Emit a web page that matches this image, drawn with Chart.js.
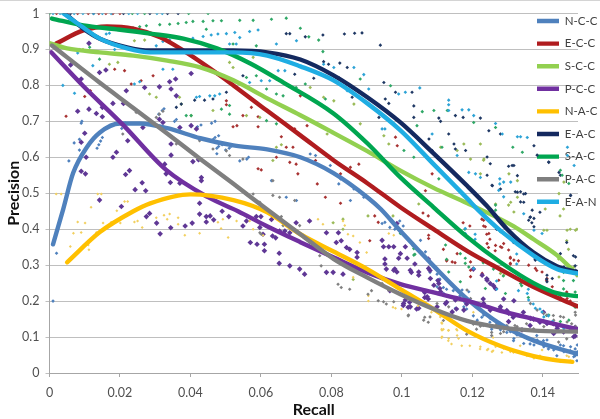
<!DOCTYPE html>
<html>
<head>
<meta charset="utf-8">
<title>Precision / Recall</title>
<script src="https://cdn.jsdelivr.net/npm/chart.js@4"></script>
<style>
  html, body { margin: 0; padding: 0; background: #fff; }
  canvas { display: block; }
  body::before { content: ""; position: absolute; left: 0; top: 0; width: 600px; height: 1px; background: #d4d4d4; }
</style>
</head>
<body>
<canvas id="chart-pr" width="600" height="419"></canvas>
<script>
var seriesNames = ["N-C-C", "E-C-C", "S-C-C", "P-C-C", "N-A-C", "E-A-C", "S-A-C", "P-A-C", "E-A-N"];
var lineColors = ["#4f81bd", "#b01c1f", "#92d050", "#7030a0", "#ffc000", "#14295f", "#00a650", "#7f7f7f", "#1fade3"];
var dotColors = ["#4f81bd", "#a83232", "#9bbb59", "#5f3795", "#f2d060", "#1f3864", "#2fa866", "#808080", "#2da3d6"];
var dotSizes = [1.8, 1.8, 1.8, 2.8, 1.5, 1.8, 1.8, 1.8, 1.8];

// fitted curves [recall, precision]
var nccCurve = [[.001,.358],[.0039,.456],[.0067,.556],[.0106,.628],[.0143,.669],[.02,.694],[.0257,.694],[.0334,.681],[.0428,.653],[.0522,.633],[.0618,.622],[.0712,.6],[.0806,.556],[.0902,.489],[.094,.456],[.0996,.395],[.109,.298],[.1185,.206],[.128,.136],[.1375,.09],[.1498,.053]];
var eccCurve = [[.002,.917],[.0096,.953],[.0163,.964],[.0238,.958],[.0314,.934],[.038,.897],[.0456,.847],[.0522,.8],[.0617,.73],[.0712,.661],[.0806,.592],[.0902,.528],[.0996,.461],[.109,.4],[.1186,.339],[.128,.288],[.1374,.239],[.1497,.186]];
var sccCurve = [[.0002,.917],[.005,.903],[.0143,.892],[.0238,.883],[.0334,.869],[.0428,.85],[.0522,.814],[.0618,.764],[.0712,.717],[.0806,.668],[.0902,.617],[.0996,.563],[.109,.515],[.1186,.472],[.1318,.408],[.1374,.372],[.144,.328],[.1497,.275]];
var pccCurve = [[.0005,.892],[.0095,.799],[.0208,.691],[.0331,.565],[.045,.489],[.0535,.45],[.0616,.409],[.0712,.364],[.0807,.321],[.0901,.28],[.0996,.247],[.109,.224],[.1185,.201],[.128,.173],[.1375,.15],[.1498,.122]];
var nacCurve = [[.005,.308],[.0143,.392],[.0238,.45],[.0286,.472],[.04,.497],[.0522,.481],[.0618,.447],[.0712,.386],[.0806,.338],[.0902,.289],[.0996,.233],[.109,.178],[.1186,.117],[.128,.075],[.1374,.047],[.144,.035],[.1484,.031]];
var eacCurve = [[.0044,1],[.0096,.958],[.0143,.93],[.022,.906],[.0286,.897],[.0428,.897],[.0522,.897],[.0618,.892],[.0712,.872],[.0806,.828],[.0902,.767],[.0996,.697],[.109,.611],[.1186,.52],[.1241,.465],[.1299,.4],[.1374,.335],[.144,.297],[.1497,.281]];
var sacCurve = [[.0007,.986],[.0096,.967],[.0191,.956],[.0286,.944],[.038,.93],[.0475,.903],[.057,.861],[.0664,.808],[.0806,.722],[.0902,.639],[.0996,.544],[.109,.461],[.1186,.378],[.128,.308],[.1374,.25],[.144,.222],[.1497,.214]];
var pacCurve = [[.0007,.911],[.0142,.808],[.0237,.738],[.0331,.668],[.0426,.597],[.0521,.527],[.0616,.456],[.0712,.386],[.0807,.317],[.0901,.266],[.0996,.219],[.109,.178],[.1185,.145],[.128,.127],[.1375,.118],[.1498,.115]];
var eanCurve = [[.004,1],[.0096,.961],[.0143,.93],[.022,.903],[.0286,.892],[.0428,.892],[.0522,.892],[.0618,.883],[.0712,.853],[.0806,.814],[.0902,.75],[.0996,.675],[.109,.581],[.1186,.485],[.1214,.456],[.128,.396],[.1375,.326],[.1441,.289],[.1498,.277]];

// raw points [recall, precision]
var nccDots = [[.001,.2],[.002,.333],[.0055,.59],[.007,.64],[.0085,.62],[.0085,.65],[.009,.695],[.0092,.7],[.0135,.625],[.014,.635],[.0145,.645],[.015,.655],[.0205,.68],[.021,.69],[.0215,.695],[.031,.72],[.032,.73],[.0325,.735],[.0355,.7],[.036,.705],[.042,.685],[.043,.69],[.046,.695],[.047,.7],[.0465,.65],[.047,.655],[.048,.66],[.0475,.625],[.048,.63],[.049,.635],[.0475,.61],[.05,.62],[.051,.625],[.0515,.63],[.054,.59],[.056,.595],[.0565,.6],[.0672,.489],[.0701,.48],[.063,.535],[.074,.609],[.0755,.605],[.0797,.577],[.0821,.526],[.0864,.512],[.0854,.48],[.0892,.489],[.0911,.484],[.0826,.54],[.0952,.419],[.0966,.405],[.098,.4],[.0994,.423],[.1004,.409],[.1032,.354],[.1056,.335],[.107,.317],[.108,.28],[.11,.275],[.1108,.261],[.1127,.233],[.1118,.238],[.1146,.229],[.1165,.215],[.1179,.196],[.1184,.178],[.1203,.159],[.1222,.178],[.1227,.155],[.125,.141],[.1255,.122],[.1269,.132],[.1298,.113],[.1326,.108],[.1317,.09],[.1355,.099],[.1364,.081],[.1383,.104],[.1402,.09],[.1416,.067],[.1435,.071],[.1459,.076],[.144,.048],[.1478,.062],[.1492,.048],[.1497,.034],[.1492,.067],
  [.1232,.161],[.1251,.152],[.128,.138],[.1308,.115],[.1327,.106],[.1356,.096],[.1384,.092],[.1403,.073],[.1431,.064],[.146,.059],[.1488,.045],[.1498,.059],[.1346,.082],[.1375,.078],[.1318,.096],[.128,.12],[.1251,.129],[.1412,.092],[.145,.078],[.1479,.073],[.1498,.078],[.11,.258],[.11,.24],[.1119,.221],[.1171,.231],[.119,.226],[.1209,.189],[.1214,.147],[.1176,.184],[.1152,.18],[.0944,.416],[.0986,.406],[.1053,.369],[.1067,.337],[.1081,.305]];
var eccDots = [[.002,1],[.005,1],[.008,1],[.011,1],[.014,1],[.016,1],[.018,1],[.02,1],[.0047,.714],[.01,.769],[.0116,.785],[.0213,.841],[.0294,.827],[.026,.813],[.0185,.845],[.0232,.804],[.0521,.685],[.0532,.688],[.0592,.685],[.0592,.713],[.0502,.757],[.0502,.746],[.0549,.716],[.0573,.739],[.0658,.657],[.0696,.679],[.0691,.628],[.0672,.628],[.0644,.6],[.0592,.568],[.0601,.565],[.0682,.586],[.07,.581],[.0705,.554],[.0712,.771],[.0731,.688],[.0755,.591],[.076,.526],[.0783,.489],[.0826,.554],[.0854,.572],[.0878,.581],[.0982,.656],[.0987,.632],[.1067,.507],[.1086,.554],[.1185,.484],[.0826,.472],[.092,.517],[.0923,.437],[.0933,.419],[.0909,.368],[.106,.445],[.1075,.437],[.1118,.344],[.1127,.312],[.1151,.307],[.1174,.418],[.1193,.409],[.1227,.428],[.1232,.409],[.1241,.386],[.125,.372],[.1246,.349],[.1265,.34],[.1284,.349],[.1308,.322],[.1308,.303],[.1331,.312],[.1364,.335],[.1383,.285],[.1411,.257],[.1468,.225],[.145,.21],[.1478,.2],[.1492,.188],
  [.1308,.319],[.1308,.305],[.1318,.314],[.136,.3],[.1379,.291],[.1398,.281],[.1412,.263],[.1427,.24],[.145,.217],[.1469,.207],[.1228,.277],[.1275,.258],[.1303,.342],[.1076,.383],[.1076,.374],[.1195,.286],[.1195,.268],[.1195,.309],[.1128,.314],[.1143,.309],[.1157,.332],[.1232,.425],[.1237,.407],[.1247,.388],[.1266,.355],[.128,.351],[.1289,.36],[.1242,.36]];
var sccDots = [[.001,.915],[.0095,.9],[.017,.859],[.0194,.864],[.0241,.924],[.027,.926],[.0284,.776],[.0303,.767],[.0369,.767],[.0374,.748],[.0402,.716],[.0464,.73],[.0511,.864],[.0521,.85],[.0578,.878],[.0559,.716],[.0597,.711],[.0644,.628],[.0658,.635],[.0634,.591],[.074,.794],[.0778,.767],[.0807,.757],[.0864,.748],[.0882,.693],[.0873,.665],[.0788,.665],[.0949,.66],[.0963,.637],[.1043,.628],[.111,.628],[.1157,.619],[.1176,.637],[.1195,.595],[.1223,.637],[.1233,.595],[.1223,.554],[.1304,.554],[.1328,.535],[.1328,.489],[.1309,.475],[.1048,.47],[.1266,.47],[.1478,.4],[.1497,.4],[.1407,.456],[.1449,.437],[.1468,.368],[.1473,.344],[.1431,.335],[.1445,.317],[.1497,.27],[.1459,.456],[.0805,.418],[.0833,.428],[.0833,.4],[.0904,.437],[.0975,.437],[.0862,.26],
  [.1446,.286],[.1446,.267],[.1488,.295],[.128,.277],[.1289,.272],[.1393,.314],[.1232,.592],[.1303,.467],[.1318,.448],[.1403,.397],[.1412,.397],[.1469,.397],[.1493,.397],[.1446,.499],[.146,.531]];
var pccDots = [[.0112,.917],[.006,.857],[.009,.818],[.0142,.836],[.016,.843],[.0218,.785],[.021,.75],[.018,.75],[.015,.739],[.0133,.722],[.0112,.734],[.008,.728],[.015,.713],[.01,.667],[.009,.642],[.0104,.6],[.009,.561],[.0102,.554],[.019,.614],[.018,.6],[.0216,.552],[.0227,.563],[.0263,.529],[.0243,.51],[.0273,.507],[.0222,.646],[.0265,.683],[.027,.794],[.0312,.796],[.0341,.81],[.0358,.818],[.0402,.833],[.0345,.79],[.036,.771],[.0322,.697],[.0402,.688],[.0417,.679],[.037,.683],[.0312,.706],[.0345,.637],[.0345,.606],[.0407,.588],[.0423,.593],[.0327,.581],[.0331,.554],[.0343,.53],[.037,.528],[.0431,.544],[.0431,.535],[.0426,.472],[.0142,.481],[.0204,.463],[.0275,.435],[.0284,.444],[.0304,.417],[.0314,.387],[.0344,.404],[.0385,.409],[.0405,.417],[.0426,.442],[.0445,.42],[.0445,.435],[.0456,.437],[.0466,.426],[.049,.45],[.0509,.435],[.0549,.409],[.0559,.423],[.057,.363],[.0589,.358],[.061,.358],[.061,.34],[.0652,.333],[.0652,.305],[.0682,.298],[.0587,.435],[.06,.435],[.063,.427],[.0597,.405],[.0606,.386],[.0633,.381],[.0642,.376],[.0653,.395],[.0668,.395],[.0682,.39],[.07,.418],[.0724,.275],[.071,.289],[.0738,.423],[.0786,.39],[.082,.39],[.0814,.363],[.0828,.368],[.0843,.349],[.0852,.344],[.0873,.335],[.0873,.322],[.0786,.28],[.0805,.28],[.0833,.275],[.0952,.317],[.0952,.303],[.0956,.289],[.098,.289],[.1027,.28],[.1037,.303],[.1075,.317],[.108,.285],[.1103,.257],[.1075,.206],[.1065,.224],[.1065,.21],[.1022,.197],[.1018,.183],[.1004,.188],[.1042,.178],[.0966,.229],[.1127,.197],[.1155,.178],[.1203,.289],[.1241,.262],[.126,.243],[.1289,.206],[.1318,.201],[.1345,.169],[.1364,.132],[.1392,.141],[.143,.137],[.1459,.114],[.1492,.103],[.1492,.127],[.144,.132],[.1298,.174],[.1278,.178],[.1231,.206],[.1184,.192],[.1108,.235],[.1316,.155],[.1374,.15],[.1402,.169],
  [.1228,.272],[.1242,.258],[.1251,.249],[.1266,.235],[.128,.184],[.1303,.166],[.1303,.143],[.1341,.12],[.1365,.152],[.1412,.138],[.1431,.11],[.1488,.101],[.1479,.124],[.1441,.124],[.1251,.175],[.1232,.193],[.0948,.351],[.0963,.351],[.0977,.351],[.0996,.332],[.1015,.319],[.0991,.319],[.1024,.286],[.1048,.272],[.1076,.291],[.1081,.263],[.1091,.244],[.1105,.249],[.111,.226],[.0977,.286],[.0986,.281],[.101,.203],[.1005,.193],[.1024,.184],[.1048,.18],[.1072,.212],[.11,.184],[.1124,.193],[.1143,.17],[.1152,.203],[.1176,.175],[.0944,.369],[.0986,.416],[.101,.351],[.1048,.281]];
var nacDots = [[.0059,.352],[.0068,.389],[.008,.42],[.009,.391],[.0101,.417],[.011,.356],[.0112,.343],[.0133,.391],[.0152,.417],[.0175,.419],[.0201,.417],[.0191,.451],[.0241,.42],[.025,.423],[.0263,.405],[.0303,.432],[.0325,.439],[.0334,.428],[.0341,.442],[.0365,.432],[.0365,.414],[.0384,.383],[.0426,.389],[.0478,.419],[.0487,.402],[.0492,.428],[.0507,.377],[.0531,.423],[.0568,.423],[.0578,.4],[.0606,.383],[.0147,.498],[.0213,.477],[.0222,.477],[.0137,.498],[.0118,.461],[.0019,.498],[.0033,.498],[.0762,.428],[.0776,.414],[.0833,.423],[.0838,.41],[.0847,.386],[.0862,.381],[.0862,.266],[.0881,.363],[.09,.335],[.0905,.215],[.0905,.2],[.0975,.183],[.0999,.178],[.1113,.14],[.1113,.122],[.1113,.098],[.1118,.122],[.1132,.118],[.1132,.09],[.1141,.081],[.1155,.122],[.1157,.104],[.117,.076],[.1193,.076],[.1222,.067],[.1245,.067],[.1259,.062],[.1284,.057],[.1317,.057],[.1336,.076],[.1355,.048],[.1392,.048],[.143,.039],[.1468,.048],[.1478,.034],[.1259,.099],[.1203,.169],[.1084,.169],[.1046,.187],
  [.1223,.073],[.1242,.064],[.1256,.059],[.1266,.073],[.1289,.068],[.1308,.059],[.1346,.054],[.1375,.041],[.1427,.036],[.1474,.045],[.1479,.031],[.145,.031],[.1398,.064],[.1114,.138],[.1114,.119],[.1114,.101],[.1133,.119],[.1133,.096],[.1161,.096],[.0982,.18],[.0963,.388],[.0977,.383],[.1109,.156],[.1157,.119]];
var eacDots = [[.006,1],[.0125,1],[.021,1],[.0285,1],[.0335,1],[.0365,1],[.0672,.944],[.0682,.944],[.0696,.831],[.0644,.818],[.036,.739],[.0374,.748],[.0412,.759],[.044,.759],[.0464,.762],[.0502,.781],[.0549,.827],[.0726,.935],[.0776,.94],[.0837,.943],[.0866,.945],[.0887,.946],[.0939,.912],[.0778,.866],[.0792,.859],[.0824,.862],[.0845,.85],[.075,.82],[.0821,.822],[.0949,.808],[.0859,.767],[.0982,.781],[.1029,.781],[.0953,.762],[.0963,.75],[.1034,.743],[.0935,.711],[.1034,.711],[.1105,.709],[.111,.7],[.1152,.716],[.1174,.711],[.1223,.709],[.1133,.665],[.1077,.651],[.1148,.637],[.1152,.623],[.1181,.619],[.1086,.619],[.1247,.674],[.128,.665],[.1375,.632],[.1417,.586],[.1313,.577],[.1328,.549],[.128,.512],[.1257,.521],[.1328,.503],[.1346,.498],[.1346,.475],[.1446,.558],[.1479,.494],[.1364,.433],[.1369,.418],[.1392,.447],[.1468,.363],[.1487,.326],[.1492,.298],[.1431,.335],[.1378,.317],[.1411,.261],[.1317,.363],[.1269,.4],
  [.1412,.272],[.1412,.254],[.1427,.263],[.1379,.314],[.146,.295],[.145,.332],[.1493,.323],[.1493,.286],[.1242,.601],[.1251,.582],[.1303,.575],[.1318,.577],[.1242,.55],[.1256,.522],[.1322,.504],[.1337,.504],[.1351,.499],[.1337,.476],[.137,.453],[.1365,.434],[.1375,.43],[.1375,.407],[.136,.425],[.145,.55],[.1479,.494],[.1417,.587],[.1384,.606]];
var sacDots = [[.0,1],[.004,1],[.0235,1],[.027,1],[.0395,1],[.045,1],[.0237,.96],[.0256,.963],[.0275,.966],[.0313,.969],[.0341,.97],[.0365,.972],[.0388,.975],[.0407,.978],[.0436,.978],[.0464,.98],[.0488,.98],[.054,.981],[.0578,.981],[.063,.984],[.0672,.987],[.0445,.956],[.0521,.915],[.0587,.91],[.0559,.822],[.0587,.827],[.0511,.72],[.0488,.734],[.0511,.744],[.0388,.716],[.0402,.716],[.0616,.79],[.0644,.776],[.0663,.771],[.07,.794],[.0616,.702],[.0644,.693],[.0085,.9],[.0142,.873],[.0114,.906],[.0712,.959],[.0736,.935],[.0764,.926],[.0776,.894],[.0726,.804],[.0783,.762],[.0882,.818],[.0968,.799],[.1058,.727],[.1091,.73],[.1129,.73],[.1043,.688],[.1114,.628],[.1204,.697],[.1266,.683],[.1315,.628],[.1342,.614],[.1034,.6],[.1006,.619],[.1105,.54],[.1032,.354],[.1037,.33],[.1127,.316],[.1179,.4],[.1184,.378],[.1231,.307],[.126,.289],[.1288,.27],[.1336,.27],[.134,.243],[.1359,.252],[.1359,.21],[.1411,.16],[.1459,.28],[.1459,.257],[.1459,.234],[.1487,.257],[.1492,.225],[.1492,.183],
  [.1365,.249],[.1337,.249],[.1337,.258],[.1417,.161],[.145,.143],[.1474,.147],[.1237,.235],[.1294,.221],[.1034,.346],[.1034,.328],[.1133,.281],[.1166,.332],[.118,.319],[.118,.305],[.119,.295],[.1166,.254],[.0996,.388],[.1124,.356],[.1266,.467],[.1266,.453],[.145,.564],[.1455,.55],[.1474,.527],[.128,.393],[.1289,.388]];
var pacDots = [[.0208,.665],[.0246,.725],[.0303,.711],[.0312,.72],[.0322,.728],[.036,.637],[.0426,.646],[.0464,.623],[.0502,.618],[.0511,.605],[.0549,.595],[.0634,.535],[.0634,.494],[.0653,.489],[.0696,.48],[.0578,.498],[.0597,.475],[.0597,.39],[.0601,.386],[.0663,.41],[.071,.41],[.0658,.435],[.0738,.363],[.0767,.326],[.0771,.298],[.0828,.308],[.0828,.238],[.0819,.247],[.0852,.233],[.0904,.219],[.0914,.229],[.0933,.201],[.0956,.192],[.1018,.159],[.1065,.155],[.1075,.141],[.1203,.136],[.1212,.122],[.1255,.113],[.1255,.104],[.1269,.136],[.1321,.132],[.1354,.137],[.1402,.146],[.143,.16],[.1459,.155],[.1482,.137],[.1492,.169],[.1468,.095],[.1445,.086],[.1374,.123],[.1298,.132],[.1155,.136],[.1118,.146],[.1184,.108],[.1231,.132],
  [.1223,.13],[.1289,.115],[.1327,.129],[.1356,.12],[.1403,.129],[.1431,.147],[.145,.157],[.1469,.142],[.1493,.129],[.1493,.161],[.1403,.166],[.1384,.175],[.1365,.193],[.1412,.161],[.128,.11],[.0944,.249],[.0963,.23],[.0948,.198],[.0977,.198],[.1019,.161],[.1062,.147],[.108,.156],[.11,.193],[.1133,.184],[.1185,.231],[.1195,.207]];
var eanDots = [[.001,1],[.003,1],[.007,1],[.0095,1],[.0125,1],[.015,1],[.0175,1],[.0225,1],[.025,1],[.0305,1],[.032,1],[.0038,.8],[.0071,.778],[.008,.89],[.0123,.855],[.0161,.943],[.017,.945],[.0185,.9],[.0241,.804],[.0256,.81],[.0303,.91],[.0322,.922],[.0341,.926],[.0407,.931],[.0436,.936],[.0459,.94],[.0478,.943],[.0502,.944],[.0526,.947],[.0568,.95],[.0592,.954],[.0644,.915],[.0701,.924],[.0511,.915],[.053,.915],[.054,.933],[.0322,.845],[.035,.845],[.0417,.767],[.0426,.769],[.0455,.771],[.0469,.771],[.0483,.776],[.0568,.808],[.0601,.813],[.0625,.813],[.0649,.841],[.0668,.841],[.0778,.859],[.0807,.85],[.0864,.85],[.0892,.83],[.0845,.785],[.0906,.79],[.0991,.776],[.101,.781],[.1051,.793],[.0944,.679],[.0952,.679],[.1133,.759],[.1133,.746],[.1133,.73],[.1171,.732],[.119,.732],[.1204,.716],[.1266,.694],[.1285,.665],[.1328,.657],[.1337,.657],[.1356,.655],[.147,.628],[.1489,.577],[.147,.605],[.119,.558],[.1209,.554],[.1223,.544],[.1278,.54],[.1278,.526],[.1309,.531],[.1086,.665],[.1157,.605],[.1326,.331],[.1326,.303],[.1269,.256],[.1269,.233],[.1331,.229],[.1359,.233],[.1373,.192],[.1392,.178],[.1416,.159],[.143,.141],[.1208,.386],[.1208,.372],
  [.1356,.221],[.136,.203],[.1379,.18],[.1398,.17],[.1403,.156],[.1427,.143],[.146,.124],[.118,.402],[.118,.388],[.1204,.291],[.1275,.508],[.1289,.49],[.1289,.531],[.1346,.443],[.1375,.397],[.1398,.388]];

var allCurves = [nccCurve, eccCurve, sccCurve, pccCurve, nacCurve, eacCurve, sacCurve, pacCurve, eanCurve];
var allDots = [nccDots, eccDots, sccDots, pccDots, nacDots, eacDots, sacDots, pacDots, eanDots];

function toPoints(pairs) {
  return pairs.map(function (p) { return { x: p[0], y: p[1] }; });
}

var datasets = [];
// thick curves first, they are the only ones in the legend
seriesNames.forEach(function (name, i) {
  datasets.push({
    label: name,
    data: toPoints(allCurves[i]),
    showLine: true,
    borderColor: lineColors[i],
    backgroundColor: lineColors[i],
    borderWidth: 4.4,
    borderCapStyle: "round",
    cubicInterpolationMode: "monotone",
    pointRadius: 0,
    order: 9 - i
  });
});
seriesNames.forEach(function (name, i) {
  datasets.push({
    label: name + " points",
    data: toPoints(allDots[i]),
    showLine: false,
    pointStyle: "rectRot",
    pointRadius: dotSizes[i],
    pointBorderWidth: 0,
    pointBackgroundColor: dotColors[i],
    order: 30 - i
  });
});

// legend sits on top of the plot area, right side
var legendMover = {
  id: "legendMover",
  afterLayout: function (chart) {
    var lg = chart.legend;
    lg.left = 537 - 11.1;
    lg.right = 600;
    lg.top = 4.15;
    lg.bottom = 419;
    lg.width = lg.right - lg.left;
    lg.height = lg.bottom - lg.top;
  }
};

var textColor = "#505050";
var tickFont = { family: "Lato", size: 12.5 };

var chart = new Chart(document.getElementById("chart-pr").getContext("2d"), {
  type: "scatter",
  data: { datasets: datasets },
  options: {
    responsive: false,
    animation: false,
    layout: { padding: { top: 13, right: 22, left: 0, bottom: 0 } },
    plugins: {
      tooltip: { enabled: false },
      legend: {
        position: "chartArea",
        align: "start",
        labels: {
          boxWidth: 22,
          boxHeight: 0,
          padding: 11.1,
          color: "#404040",
          font: { family: "Lato", size: 11.5 },
          filter: function (item) { return item.datasetIndex < 9; },
          sort: function (a, b) { return a.datasetIndex - b.datasetIndex; }
        }
      }
    },
    scales: {
      x: {
        min: 0,
        max: 0.15,
        afterFit: function (scale) { scale.height = 46; },
        grid: { drawOnChartArea: false, color: "#a6a6a6", tickLength: 4 },
        border: { color: "#a6a6a6" },
        ticks: {
          stepSize: 0.02,
          includeBounds: false,
          maxRotation: 0,
          padding: 8,
          color: textColor,
          font: tickFont,
          callback: function (v) { return String(Number(v.toFixed(2))); }
        },
        title: {
          display: true,
          text: "Recall",
          color: "#111",
          padding: { top: 1, bottom: 0 },
          font: { family: "Lato", size: 16, weight: "bold" }
        }
      },
      y: {
        min: 0,
        max: 1,
        afterFit: function (scale) { scale.width = 49.5; },
        grid: { color: "#bfbfbf", tickLength: 4 },
        border: { color: "#a6a6a6" },
        ticks: {
          stepSize: 0.1,
          padding: 6,
          color: textColor,
          font: tickFont,
          callback: function (v) { return String(Number(v.toFixed(1))); }
        },
        title: {
          display: true,
          text: "Precision",
          color: "#111",
          padding: { top: 4, bottom: 0 },
          font: { family: "Lato", size: 16, weight: "bold" }
        }
      }
    }
  },
  plugins: [legendMover]
});
</script>
</body>
</html>
